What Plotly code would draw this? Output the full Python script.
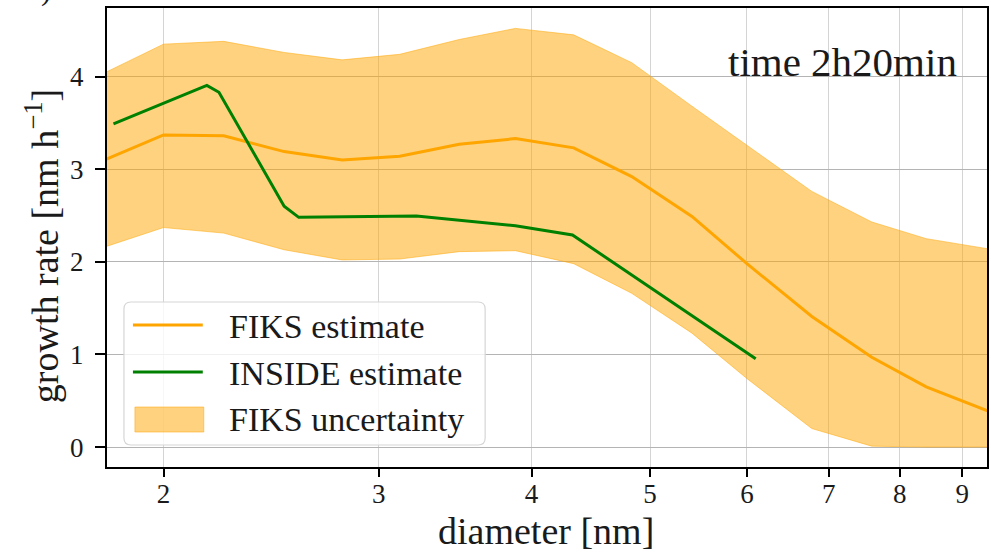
import plotly.graph_objects as go

# ---- data ----
fiks_d = [1.79, 2.00, 2.24, 2.51, 2.80, 3.12, 3.49, 3.88, 4.33, 4.83, 5.41, 6.00, 6.78, 7.59, 8.41, 9.45]
fiks_gr = [3.10, 3.37, 3.36, 3.19, 3.10, 3.14, 3.27, 3.33, 3.23, 2.92, 2.49, 1.98, 1.41, 0.97, 0.65, 0.39]
fiks_hi = [4.04, 4.35, 4.38, 4.26, 4.18, 4.24, 4.40, 4.52, 4.45, 4.15, 3.68, 3.26, 2.76, 2.43, 2.25, 2.14]
fiks_lo = [2.16, 2.37, 2.31, 2.13, 2.02, 2.03, 2.11, 2.12, 1.98, 1.66, 1.23, 0.74, 0.20, 0.01, 0.0, 0.0]

inside_d = [1.82, 2.17, 2.22, 2.51, 2.58, 3.22, 3.88, 4.32, 6.10]
inside_gr = [3.49, 3.905, 3.83, 2.60, 2.48, 2.495, 2.39, 2.29, 0.954]

x_ticks = [2, 3, 4, 5, 6, 7, 8, 9]
y_ticks = [0, 1, 2, 3, 4]

ORANGE = "#FFA500"
GREEN = "#008000"
FILL = "rgba(255,165,0,0.5)"
FONT = "Liberation Serif"
TXT = "#1a1a1a"

W, H = 991, 553
L, R, T, B = 107, 2, 8, 86
PW, PH = W - L - R, H - T - B


def px(x):
    return (x - L) / PW


def py(y):
    return (H - B - y) / PH


fig = go.Figure()
fig.add_trace(go.Scatter(x=fiks_d, y=fiks_hi, mode="lines",
                         line=dict(color=FILL, width=1), showlegend=False,
                         hoverinfo="skip"))
fig.add_trace(go.Scatter(x=fiks_d, y=fiks_lo, mode="lines", fill="tonexty",
                         fillcolor=FILL, line=dict(color=FILL, width=1),
                         showlegend=False, name="FIKS uncertainty"))
fig.add_trace(go.Scatter(x=fiks_d, y=fiks_gr, mode="lines",
                         line=dict(color=ORANGE, width=3), showlegend=False,
                         name="FIKS estimate"))
fig.add_trace(go.Scatter(x=inside_d, y=inside_gr, mode="lines",
                         line=dict(color=GREEN, width=3), showlegend=False,
                         name="INSIDE estimate"))

# ---- manual legend ----
bx0, bx1, by0, by1, rad = 124, 486, 302, 445, 7
path = (f"M {px(bx0+rad)},{py(by0)} L {px(bx1-rad)},{py(by0)} "
        f"Q {px(bx1)},{py(by0)} {px(bx1)},{py(by0+rad)} "
        f"L {px(bx1)},{py(by1-rad)} Q {px(bx1)},{py(by1)} {px(bx1-rad)},{py(by1)} "
        f"L {px(bx0+rad)},{py(by1)} Q {px(bx0)},{py(by1)} {px(bx0)},{py(by1-rad)} "
        f"L {px(bx0)},{py(by0+rad)} Q {px(bx0)},{py(by0)} {px(bx0+rad)},{py(by0)} Z")
shapes = [dict(type="path", xref="paper", yref="paper", path=path,
               fillcolor="rgba(255,255,255,0.8)",
               line=dict(color="#d6d6d6", width=1.2), layer="above")]
shapes.append(dict(type="line", xref="paper", yref="paper", x0=px(133), x1=px(203),
                   y0=py(325), y1=py(325), line=dict(color=ORANGE, width=3), layer="above"))
shapes.append(dict(type="line", xref="paper", yref="paper", x0=px(133), x1=px(203),
                   y0=py(372), y1=py(372), line=dict(color=GREEN, width=3), layer="above"))
shapes.append(dict(type="rect", xref="paper", yref="paper", x0=px(135), x1=px(204),
                   y0=py(407), y1=py(432), fillcolor=FILL,
                   line=dict(color=FILL, width=1), layer="above"))

annotations = []
for label, yy in [("FIKS estimate", 325), ("INSIDE estimate", 372), ("FIKS uncertainty", 418)]:
    annotations.append(dict(text=label, xref="paper", yref="paper", x=px(227), y=py(yy + 1),
                            xanchor="left", yanchor="middle", showarrow=False,
                            font=dict(family=FONT, size=34, color=TXT)))

annotations.append(dict(text="time 2h20min", xref="paper", yref="paper", x=px(961), y=py(62),
                        xanchor="right", yanchor="middle", showarrow=False,
                        font=dict(family=FONT, size=41, color=TXT)))
annotations.append(dict(text="diameter [nm]", xref="paper", yref="paper", x=px(547), y=py(531),
                        xanchor="center", yanchor="middle", showarrow=False,
                        font=dict(family=FONT, size=38, color=TXT)))
annotations.append(dict(text="growth rate [nm h<sup>−1</sup>]", xref="paper", yref="paper",
                        x=px(42), y=py(246), xanchor="center", yanchor="middle",
                        textangle=-90, showarrow=False,
                        font=dict(family=FONT, size=38, color=TXT)))
# cropped panel label fragment at the very top-left
annotations.append(dict(text=")", xref="paper", yref="paper", x=px(46), y=py(9),
                        xanchor="center", yanchor="bottom", showarrow=False,
                        font=dict(family=FONT, size=30, color=TXT)))

fig.update_layout(
    width=W, height=H,
    margin=dict(l=L, r=R, t=T, b=B),
    paper_bgcolor="white", plot_bgcolor="white",
    font=dict(family=FONT, color=TXT),
    shapes=shapes, annotations=annotations,
    showlegend=False,
)
fig.update_xaxes(type="log", range=[0.2548, 0.9745],
                 tickvals=x_ticks, ticktext=[str(v) for v in x_ticks],
                 tickfont=dict(family=FONT, size=27, color=TXT),
                 ticks="outside", ticklen=8, tickwidth=1.5, tickcolor="black",
                 ticklabelstandoff=-6,
                 showgrid=True, gridcolor="#d4d4d4", gridwidth=1.2,
                 showline=True, linecolor="black", linewidth=2, mirror=True,
                 zeroline=False)
fig.update_yaxes(range=[-0.215, 4.74],
                 tickvals=y_ticks, ticktext=[str(v) for v in y_ticks],
                 tickfont=dict(family=FONT, size=27, color=TXT),
                 ticks="outside", ticklen=10, tickwidth=1.5, tickcolor="black",
                 ticklabelstandoff=6,
                 showgrid=True, gridcolor="#b4b4b4", gridwidth=1.2,
                 showline=True, linecolor="black", linewidth=2, mirror=True,
                 zeroline=False)

fig.write_html("out.html")
